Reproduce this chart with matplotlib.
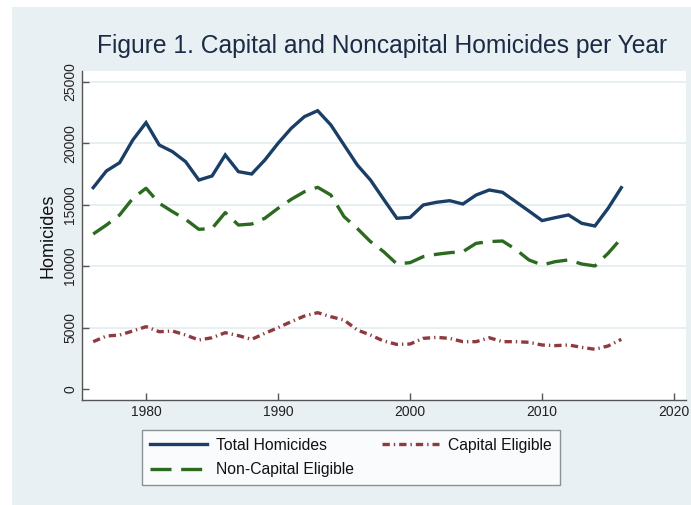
import matplotlib
matplotlib.use("Agg")
import matplotlib.pyplot as plt
from matplotlib.patches import Rectangle

plt.rcParams['font.family'] = ['Liberation Sans', 'DejaVu Sans']

years = list(range(1976, 2017))
total = [16380, 17740, 18410, 20260, 21670, 19850, 19310, 18490, 17000, 17330,
         19040, 17680, 17490, 18630, 19990, 21210, 22160, 22640, 21480, 19850,
         18225, 17000, 15430, 13890, 13960, 14970, 15190, 15320, 15050, 15780,
         16190, 16000, 15240, 14480, 13700, 13940, 14160, 13480, 13260, 14700,
         16380]
noncapital = [12610, 13340, 14160, 15510, 16330, 15110, 14430, 13800, 12990, 13060,
              14350, 13340, 13420, 13890, 14700, 15430, 16050, 16410, 15780, 14020,
              13060, 11990, 11170, 10170, 10280, 10770, 10960, 11090, 11170, 11850,
              11990, 12040, 11360, 10500, 10090, 10360, 10500, 10170, 10010, 11040,
              12260]
capital = [3850, 4310, 4390, 4720, 5070, 4660, 4720, 4390, 3990, 4170,
           4580, 4340, 4040, 4530, 4990, 5480, 5940, 6210, 5880, 5610,
           4800, 4390, 3900, 3630, 3660, 4120, 4200, 4120, 3850, 3850,
           4170, 3850, 3850, 3800, 3580, 3530, 3580, 3390, 3230, 3500,
           4040]

xticks = [1980, 1990, 2000, 2010, 2020]
yticks = [0, 5000, 10000, 15000, 20000, 25000]

title = "Figure 1. Capital and Noncapital Homicides per Year"
ylabel = "Homicides"
labels = ["Total Homicides", "Non-Capital Eligible", "Capital Eligible"]

panel = '#e9f0f3'
navy = '#1a3e66'
green = '#2b6a1f'
maroon = '#8e3a3e'
axcol = '#555555'

fig = plt.figure(figsize=(6.91, 5.05), dpi=100)
fig.patch.set_facecolor('white')
fig.patches.append(Rectangle((12 / 691, 0), 1, 1 - 7 / 505, transform=fig.transFigure,
                             facecolor=panel, edgecolor='none', zorder=-10))

ax = fig.add_axes([82 / 691, 105 / 505, (686 - 82) / 691, (400 - 71) / 505])
ax.set_facecolor('white')

l1, = ax.plot(years, total, color=navy, lw=2.4, solid_joinstyle='miter')
l2, = ax.plot(years, noncapital, color=green, lw=2.4, linestyle=(0, (6.3, 2.9)))
l3, = ax.plot(years, capital, color=maroon, lw=2.4, linestyle=(0, (2.2, 1.2, 0.4, 1.2)))

ax.set_xlim(1975.15, 2020.9)
ax.set_ylim(-895, 25870)
ax.set_xticks(xticks)
ax.set_yticks(yticks)
ax.set_yticklabels([str(v) for v in yticks], rotation=90, va='center')

ax.yaxis.grid(True, color='#e6eef1', lw=1.3)
ax.set_axisbelow(True)
ax.yaxis.get_gridlines()[0].set_visible(False)

for s in ['top', 'right']:
    ax.spines[s].set_visible(False)
for s in ['left', 'bottom']:
    ax.spines[s].set_color(axcol)
    ax.spines[s].set_linewidth(1.0)

ax.tick_params(axis='both', direction='in', length=5, width=1, color=axcol,
               labelsize=10, labelcolor='#222222')
ax.tick_params(axis='y', pad=3.5)
ax.tick_params(axis='x', pad=3.5)

ax.set_ylabel(ylabel, fontsize=13, color='#111111', labelpad=5)

fig.text(382 / 691, 1 - 46 / 505, title, ha='center', va='center',
         fontsize=17.7, color='#1c2b45')

leg = fig.legend([l1, l2, l3], labels, ncol=2, loc='center',
                 bbox_to_anchor=(351 / 691, 1 - 457.5 / 505),
                 fontsize=11.3, frameon=True, fancybox=False,
                 handlelength=3.6, handletextpad=0.6, columnspacing=1.8,
                 labelspacing=0.6, borderpad=0.5, borderaxespad=0)
leg.get_frame().set_edgecolor('#777777')
leg.get_frame().set_linewidth(1.0)
leg.get_frame().set_facecolor('white')
for t in leg.get_texts():
    t.set_color('#111111')

fig.savefig('out.png', dpi=100, facecolor=fig.get_facecolor())
